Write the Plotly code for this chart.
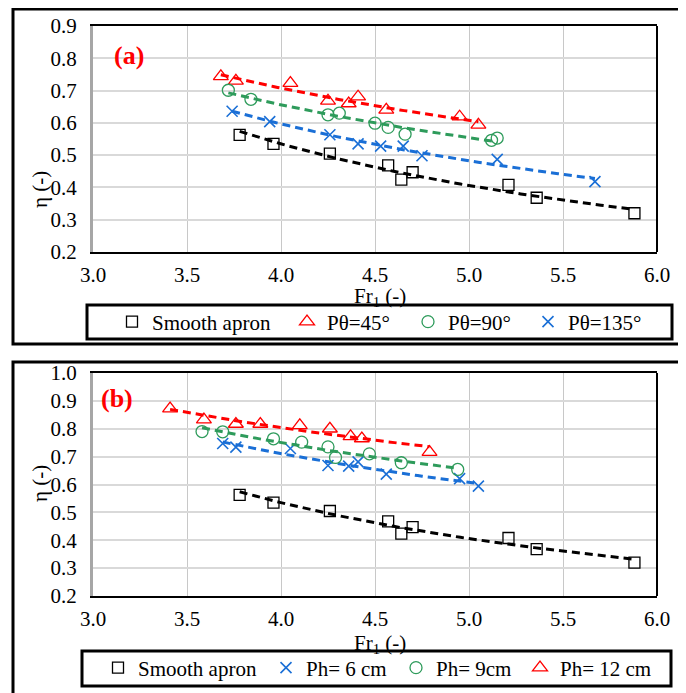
import numpy as np
import plotly.graph_objects as go

# ---------------- data ----------------
smooth_fr = [3.78, 3.96, 4.26, 4.57, 4.64, 4.70, 5.21, 5.36, 5.88]
smooth_eta = [0.563, 0.535, 0.505, 0.468, 0.424, 0.447, 0.408, 0.368, 0.320]

# panel (a)
p45_fr = [3.68, 3.76, 4.05, 4.25, 4.36, 4.41, 4.56, 4.95, 5.05]
p45_eta = [0.744, 0.730, 0.723, 0.668, 0.660, 0.681, 0.640, 0.619, 0.594]
p90_fr = [3.72, 3.84, 4.25, 4.31, 4.50, 4.57, 4.66, 5.12, 5.15]
p90_eta = [0.701, 0.673, 0.625, 0.630, 0.599, 0.586, 0.565, 0.546, 0.553]
p135_fr = [3.74, 3.94, 4.26, 4.41, 4.53, 4.65, 4.75, 5.15, 5.67]
p135_eta = [0.636, 0.604, 0.563, 0.535, 0.528, 0.528, 0.498, 0.487, 0.418]

# panel (b)
ph6_fr = [3.69, 3.76, 4.05, 4.25, 4.36, 4.41, 4.56, 4.95, 5.05]
ph6_eta = [0.747, 0.734, 0.729, 0.668, 0.666, 0.681, 0.637, 0.621, 0.594]
ph9_fr = [3.58, 3.69, 3.96, 4.11, 4.25, 4.29, 4.47, 4.64, 4.94]
ph9_eta = [0.790, 0.789, 0.764, 0.752, 0.735, 0.697, 0.710, 0.678, 0.654]
ph12_fr = [3.41, 3.59, 3.76, 3.89, 4.10, 4.26, 4.37, 4.43, 4.79]
ph12_eta = [0.872, 0.833, 0.817, 0.817, 0.812, 0.800, 0.773, 0.765, 0.716]

x_ticks = [3.0, 3.5, 4.0, 4.5, 5.0, 5.5, 6.0]
ya_ticks = [0.2, 0.3, 0.4, 0.5, 0.6, 0.7, 0.8, 0.9]
yb_ticks = [0.2, 0.3, 0.4, 0.5, 0.6, 0.7, 0.8, 0.9, 1.0]

# ---------------- styles ----------------
FONT = "Liberation Serif"
BLACK = "#000000"
RED = "#FF0000"
GREEN = "#2E9B5B"
BLUE = "#1A6FD6"
W, H = 686, 693
OFF = 8  # page body margin


def px_x(p):
    return (p - OFF) / W


def px_y(p):
    return 1 - (p - OFF) / H


def power_fit(x, y):
    x = np.asarray(x, float)
    y = np.asarray(y, float)
    b, lna = np.polyfit(np.log(x), np.log(y), 1)
    xs = np.linspace(x.min(), x.max(), 60)
    return xs, np.exp(lna) * xs ** b


fig = go.Figure()


def add_series(x, y, name, color, symbol, size, xa, ya, legend, lwidth):
    xs, ys = power_fit(x, y)
    fig.add_trace(go.Scatter(x=xs, y=ys, mode="lines", xaxis=xa, yaxis=ya,
                             line=dict(color=color, width=3, dash="8px,5px"),
                             showlegend=False, hoverinfo="skip"))
    lw = 1.6 if "x" in symbol else 1.3
    fig.add_trace(go.Scatter(x=x, y=y, mode="markers", name=name, xaxis=xa, yaxis=ya,
                             legend=legend, legendwidth=lwidth,
                             marker=dict(symbol=symbol, size=size, color=color,
                                         line=dict(color=color, width=lw))))


# panel (a)
add_series(smooth_fr, smooth_eta, "Smooth apron", BLACK, "square-open", 11, "x", "y", "legend", 130)
add_series(p45_fr, p45_eta, "Pθ=45°", RED, "triangle-up-open", 13, "x", "y", "legend", 76)
add_series(p90_fr, p90_eta, "Pθ=90°", GREEN, "circle-open", 12, "x", "y", "legend", 75)
add_series(p135_fr, p135_eta, "Pθ=135°", BLUE, "x-thin-open", 11, "x", "y", "legend", 80)

# panel (b)
add_series(smooth_fr, smooth_eta, "Smooth apron", BLACK, "square-open", 11, "x2", "y2", "legend2", 123)
add_series(ph6_fr, ph6_eta, "Ph= 6 cm", BLUE, "x-thin-open", 11, "x2", "y2", "legend2", 85)
add_series(ph9_fr, ph9_eta, "Ph= 9cm", GREEN, "circle-open", 12, "x2", "y2", "legend2", 79)
add_series(ph12_fr, ph12_eta, "Ph= 12 cm", RED, "triangle-up-open", 13, "x2", "y2", "legend2", 95)

tickfont = dict(family=FONT, size=21, color="black")
xdom = [px_x(93), px_x(657)]

common_x = dict(range=[3, 6], tickvals=x_ticks, tickformat=".1f", showgrid=True,
                gridcolor="#C8C8C8", gridwidth=1, zeroline=False, automargin=False,
                showline=True, linecolor="black", linewidth=2, mirror=True,
                tickfont=tickfont, ticks="", ticklabelstandoff=3, domain=xdom)
common_y = dict(showgrid=True, gridcolor="#D9D9D9", gridwidth=2, zeroline=False,
                tickformat=".1f", showline=True, linecolor="#A6A6A6", linewidth=3,
                automargin=False, tickfont=tickfont, ticks="", ticklabelstandoff=9)

legend_common = dict(orientation="h", xanchor="left", yanchor="middle",
                     borderwidth=0, bgcolor="rgba(0,0,0,0)",
                     font=dict(family=FONT, size=21, color="black"), itemwidth=30)

fig.update_layout(
    template="plotly_white",
    width=W, height=H,
    margin=dict(l=0, r=0, t=0, b=0, pad=0),
    paper_bgcolor="white", plot_bgcolor="white",
    font=dict(family=FONT, color="black"),
    xaxis=dict(anchor="y", **common_x),
    yaxis=dict(anchor="x", range=[0.2, 0.9], tickvals=ya_ticks,
               domain=[px_y(252), px_y(26)], **common_y),
    xaxis2=dict(anchor="y2", **common_x),
    yaxis2=dict(anchor="x2", range=[0.2, 1.0], tickvals=yb_ticks,
                domain=[px_y(596), px_y(373)], **common_y),
    legend=dict(x=px_x(112), y=px_y(322), **legend_common),
    legend2=dict(x=px_x(98), y=px_y(668), **legend_common),
)

# outer boxes, legend boxes and right borders of plot areas
fig.add_shape(type="rect", xref="paper", yref="paper",
              x0=px_x(13), x1=px_x(683), y0=px_y(344), y1=px_y(9),
              line=dict(color="black", width=3), layer="below")
fig.add_shape(type="rect", xref="paper", yref="paper",
              x0=px_x(13), x1=px_x(683), y0=px_y(705), y1=px_y(362),
              line=dict(color="black", width=3), layer="below")
fig.add_shape(type="rect", xref="paper", yref="paper",
              x0=px_x(87), x1=px_x(672), y0=px_y(339), y1=px_y(305),
              line=dict(color="black", width=3), layer="below")
fig.add_shape(type="rect", xref="paper", yref="paper",
              x0=px_x(82), x1=px_x(671), y0=px_y(686), y1=px_y(651),
              line=dict(color="black", width=3), layer="below")
for xr, yr in [("x domain", "y domain"), ("x2 domain", "y2 domain")]:
    fig.add_shape(type="line", xref=xr, yref=yr, x0=1, x1=1, y0=0, y1=1,
                  line=dict(color="black", width=2))

# axis titles
for yc_title, yc_xt in [(190, 297), (484, 644)]:
    fig.add_annotation(text="η (-)", xref="paper", yref="paper", x=px_x(40), y=px_y(yc_title),
                       xanchor="center", yanchor="middle",
                       textangle=-90, showarrow=False, font=tickfont)
    fig.add_annotation(text="Fr<sub>1</sub> (-)", xref="paper", yref="paper", x=px_x(380),
                       y=px_y(yc_xt), xanchor="center", yanchor="middle",
                       showarrow=False, font=tickfont)

fig.add_annotation(text="<b>(a)</b>", xref="paper", yref="paper", x=px_x(129), y=px_y(56),
                   xanchor="center", yanchor="middle",
                   showarrow=False, font=dict(family=FONT, size=26, color=RED))
fig.add_annotation(text="<b>(b)</b>", xref="paper", yref="paper", x=px_x(117), y=px_y(398),
                   xanchor="center", yanchor="middle",
                   showarrow=False, font=dict(family=FONT, size=26, color=RED))

fig.write_html("out.html")
